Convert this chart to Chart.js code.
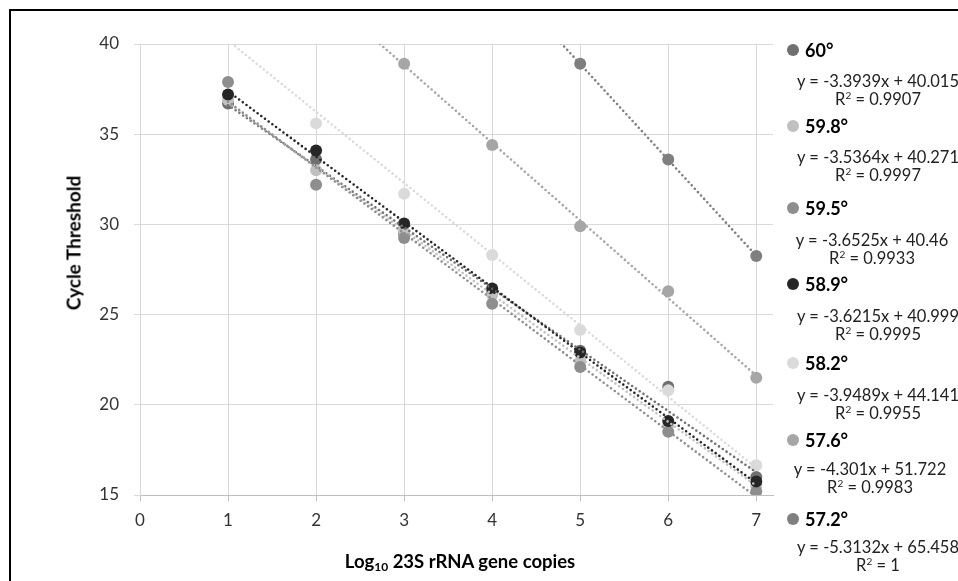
<!DOCTYPE html>
<html>
<head>
<meta charset="utf-8">
<script src="https://cdn.jsdelivr.net/npm/chart.js@4"></script>
<style>
  body { margin: 0; background: #fff; }
  #wrap { position: relative; width: 958px; height: 581px; overflow: hidden; background: #fff; font-family: Lato, "Open Sans", sans-serif; }
  #frame { position: absolute; left: 9px; top: 9px; width: 1100px; height: 700px; border: 2px solid #000; }
  #chart { position: absolute; left: 0; top: 0; }
  .ytitle { position: absolute; left: 73px; top: 243px; transform: translate(-50%, -50%) rotate(-90deg); font-weight: bold; font-size: 19px; color: #000; white-space: nowrap; }
  .xtitle { position: absolute; left: 460px; top: 562px; transform: translate(-50%, -50%); font-weight: bold; font-size: 18.5px; color: #000; white-space: nowrap; }
  .xtitle sub { font-size: 12px; vertical-align: -3px; }
  .lg { position: absolute; left: 787px; height: 14px; display: flex; align-items: center; font-weight: bold; font-size: 18px; color: #000; white-space: nowrap; }
  .lg i { display: inline-block; width: 12px; height: 12px; border-radius: 50%; margin-right: 6px; }
  .eq { position: absolute; transform: translateX(-50%); text-align: center; font-size: 16.5px; color: #222; white-space: nowrap; line-height: 18px; }
  .eq sup { font-size: 10px; line-height: 0; vertical-align: 6px; }
</style>
</head>
<body>
<div id="wrap">
  <div id="frame"></div>
  <canvas id="chart" width="958" height="581"></canvas>
  <div class="ytitle">Cycle Threshold</div>
  <div class="xtitle">Log<sub>10</sub> 23S rRNA gene copies</div>
  <div id="legend"></div>
</div>
<script>
// log10 gene copies
var xValues = [1, 2, 3, 4, 5, 6, 7];

// Ct values per annealing temperature (null = not shown)
var ct60  = [36.7, 33.6, 29.5, 26.2, 23.0, 21.0, 16.0];
var ct598 = [36.9, 33.0, 29.6, 26.1, 22.4, 18.9, 15.5];
var ct595 = [37.9, 32.2, 29.25, 25.6, 22.1, 18.5, 15.2];
var ct589 = [37.2, 34.1, 30.05, 26.45, 22.9, 19.1, 15.75];
var ct582 = [null, 35.6, 31.7, 28.3, 24.15, 20.8, 16.65];
var ct576 = [null, null, 38.9, 34.4, 29.9, 26.3, 21.5];
var ct572 = [null, null, null, null, 38.9, 33.6, 28.25];

var seriesNames = ['60°', '59.8°', '59.5°', '58.9°', '58.2°', '57.6°', '57.2°'];
var seriesValues = [ct60, ct598, ct595, ct589, ct582, ct576, ct572];

// trendline equations as printed on the chart
var slopes     = [-3.3939, -3.5364, -3.6525, -3.6215, -3.9489, -4.301, -5.3132];
var intercepts = [40.015, 40.271, 40.46, 40.999, 44.141, 51.722, 65.458];
var rSquared   = ['0.9907', '0.9997', '0.9933', '0.9995', '0.9955', '0.9983', '1'];
var eqTexts = ['y = -3.3939x + 40.015', 'y = -3.5364x + 40.271', 'y = -3.6525x + 40.46',
               'y = -3.6215x + 40.999', 'y = -3.9489x + 44.141', 'y = -4.301x + 51.722',
               'y = -5.3132x + 65.458'];
var trendFrom = 1, trendTo = 7;

var xTicks = [0, 1, 2, 3, 4, 5, 6, 7];

var colors = ['#707070', '#c0c0c0', '#8e8e8e', '#262626', '#dadada', '#a6a6a6', '#7f7f7f'];

(function () {
    var datasets = [];
    // markers: later series drawn on top
    for (var i = 0; i < seriesValues.length; i++) {
        var pts = [];
        for (var j = 0; j < xValues.length; j++) {
            if (seriesValues[i][j] !== null) pts.push({ x: xValues[j], y: seriesValues[i][j] });
        }
        datasets.push({
            type: 'scatter',
            label: seriesNames[i],
            data: pts,
            backgroundColor: colors[i],
            borderColor: colors[i],
            borderWidth: 0,
            pointRadius: 6,
            order: 20 - i
        });
    }
    // dotted linear trendlines
    for (var k = 0; k < slopes.length; k++) {
        datasets.push({
            type: 'line',
            label: 'trend ' + seriesNames[k],
            data: [
                { x: trendFrom, y: slopes[k] * trendFrom + intercepts[k] },
                { x: trendTo, y: slopes[k] * trendTo + intercepts[k] }
            ],
            borderColor: colors[k],
            borderWidth: 2.6,
            borderDash: [0, 4.6],
            borderCapStyle: 'round',
            pointRadius: 0,
            fill: false,
            clip: 0,
            order: 10 - k
        });
    }

    var tickFont = { family: 'Lato, "Open Sans", sans-serif', size: 17 };

    new Chart(document.getElementById('chart'), {
        data: { datasets: datasets },
        options: {
            responsive: false,
            devicePixelRatio: 1,
            animation: false,
            layout: { padding: { top: 44, right: 185, bottom: 0, left: 0 } },
            plugins: { legend: { display: false }, tooltip: { enabled: false } },
            scales: {
                x: {
                    type: 'linear',
                    min: 0,
                    max: 7.19,
                    afterBuildTicks: function (scale) {
                        scale.ticks = xTicks.map(function (v) { return { value: v }; });
                    },
                    afterFit: function (scale) { scale.height = 86; },
                    ticks: { color: '#333', font: tickFont, padding: 9, autoSkip: false, maxRotation: 0 },
                    grid: { color: '#d9d9d9', tickColor: '#bfbfbf', tickLength: 6, lineWidth: 1 },
                    border: { color: '#bfbfbf', width: 1 }
                },
                y: {
                    type: 'linear',
                    min: 15,
                    max: 40,
                    afterFit: function (scale) { scale.width = 140; },
                    ticks: { stepSize: 5, color: '#333', font: tickFont, padding: 15 },
                    grid: { color: '#d9d9d9', tickColor: '#d9d9d9', tickLength: 6, lineWidth: 1 },
                    border: { color: '#d9d9d9', width: 1 }
                }
            }
        }
    });

    // side legend with trendline labels
    var lgY = [50, 126, 208, 284, 363, 440, 519];
    var eqY = [72, 148, 231, 307, 386, 460, 538];
    var eqX = [878, 878, 872, 878, 878, 870, 878];
    var box = document.getElementById('legend');
    var html = '';
    for (var n = 0; n < seriesNames.length; n++) {
        html += '<div class="lg" style="top:' + (lgY[n] - 7) + 'px"><i style="background:' + colors[n] + '"></i>' + seriesNames[n] + '</div>';
        html += '<div class="eq" style="left:' + eqX[n] + 'px;top:' + eqY[n] + 'px">' + eqTexts[n] +
                '<br>R<sup>2</sup> = ' + rSquared[n] + '</div>';
    }
    box.innerHTML = html;
}());
</script>
</body>
</html>
